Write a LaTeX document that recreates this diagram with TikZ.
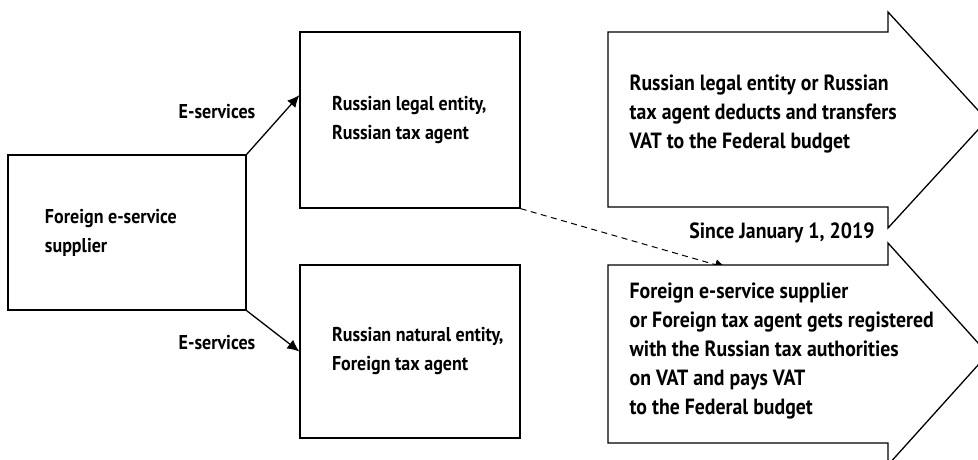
\documentclass[tikz,border=0pt]{standalone}
\usepackage{fontspec}
\setmainfont{PT Sans Bold}[FakeStretch=0.9]
\usetikzlibrary{arrows.meta, calc}

\begin{document}
\begin{tikzpicture}[x=1pt, y=-1pt, line width=1.3pt,
    font=\fontsize{22}{29}\selectfont,
    box/.style={rectangle, draw, align=flush left, inner xsep=32pt, text width=156, font=\fontsize{20}{29}\selectfont},
    lbl/.style={align=left, inner sep=0pt, anchor=west},
    tip/.style={-{Latex[length=12pt, width=11pt]}}]
    \useasboundingbox (0, 0) rectangle (978, 460);
    \node[box, minimum width=238, minimum height=155, inner xsep=37pt, text width=164] (fes) at (127, 232.5) {Foreign e-service\\supplier};
    \node[box, minimum width=220, minimum height=176] (rle) at (410, 120) {\mbox{Russian legal entity,}\\\mbox{Russian tax agent}};
    \node[box, minimum width=220, minimum height=173] (rne) at (410, 351.5) {\mbox{Russian natural entity,}\\\mbox{Foreign tax agent}};
    \coordinate (reg) at (727, 268);
	\draw[tip, dashed, dash pattern=on 6pt off 4.5pt, line width=1pt] (rle.south east) -- (reg);
	\draw[fill=white] (608, 32) -- (888, 32) -- (888, 12) -- (987, 120) -- (888, 228) -- (888, 207) -- (608, 207) -- cycle;
	\draw[fill=white] (608, 265) -- (888, 265) -- (888, 243) -- (988, 354) -- (888, 465) -- (888, 443) -- (608, 443) -- cycle;
	\node[lbl] (ded) at (629, 114) {Russian legal entity or Russian\\tax agent deducts and transfers\\VAT to the Federal budget};
	\node[lbl] (pay) at (629, 351) {Foreign e-service supplier\\or Foreign tax agent gets registered\\with the Russian tax authorities\\on VAT and pays VAT\\to the Federal budget};
	\node (since) at (782, 233) {Since January 1, 2019};
	\node[font=\fontsize{20}{29}\selectfont] (es1) at (217, 112) {E-services};
	\node[font=\fontsize{20}{29}\selectfont] (es2) at (217, 343) {E-services};
	\draw[tip] (fes.north east) -- ($(rle.north west)!0.36!(rle.south west)$);
	\draw[tip] (fes.south east) -- (rne.west);
\end{tikzpicture}
\end{document}
